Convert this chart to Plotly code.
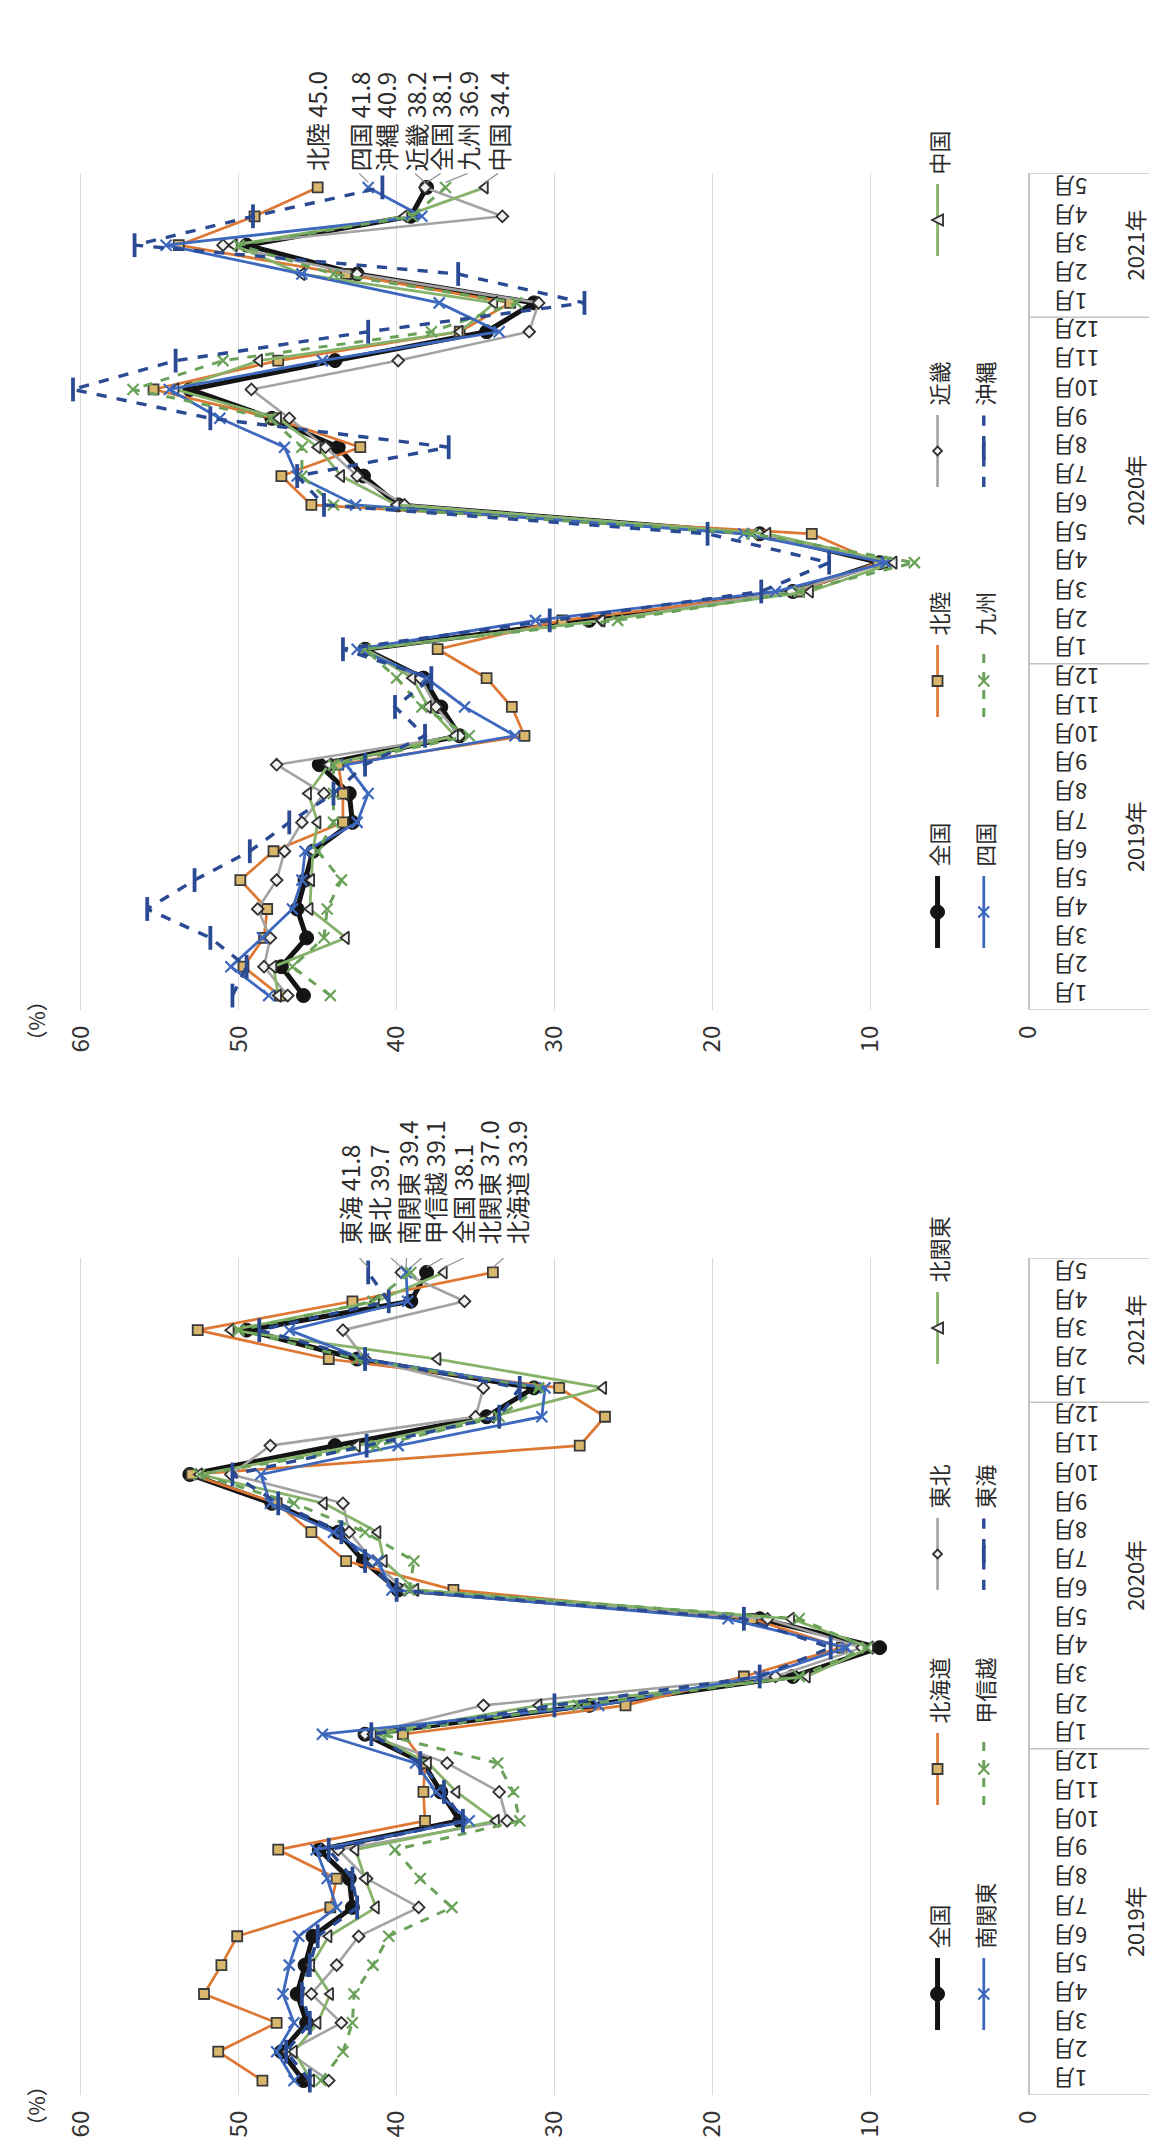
import plotly.graph_objects as go

W, H = 1157, 2147

# ---------------- data ----------------
years = ["2019年", "2020年", "2021年"]
months_in_year = [12, 12, 5]
month_labels = [f"{m}月" for n in months_in_year for m in range(1, n + 1)]
categories = [f"{y}{m}月" for y, n in zip(years, months_in_year) for m in range(1, n + 1)]
value_ticks = [0, 10, 20, 30, 40, 50, 60]

# 全国 (shared by both panels)
zenkoku = [45.9, 47.3, 45.7, 46.3, 45.8, 45.3, 42.8, 43.0, 44.9, 36.0, 37.2, 38.3,
           42.0, 27.8, 14.9, 9.4, 17.0, 39.9, 42.1, 43.7, 47.9, 53.1, 43.9, 34.3,
           31.3, 42.5, 49.5, 39.1, 38.1]
# upper panel
hokuriku = [47.4, 49.7, 48.4, 48.2, 49.9, 47.8, 43.4, 43.4, 43.7, 31.9, 32.7, 34.3,
            37.4, 29.5, 14.5, 9.5, 13.7, 45.4, 47.3, 42.3, 47.8, 55.4, 47.5, 36.0,
            32.8, 43.2, 53.8, 49.0, 45.0]
kinki = [46.9, 48.4, 48.0, 48.8, 47.6, 47.1, 46.0, 44.6, 47.6, 36.0, 37.5, 38.5,
         42.0, 27.0, 15.0, 9.0, 17.0, 39.5, 42.5, 44.5, 46.8, 49.2, 39.9, 31.6,
         31.0, 42.5, 51.0, 33.3, 38.2]
chugoku = [47.5, 47.8, 43.2, 45.5, 45.4, 45.3, 45.0, 45.6, 44.3, 36.3, 38.0, 39.0,
           42.0, 27.0, 13.8, 8.5, 16.5, 40.0, 43.5, 45.0, 47.5, 54.0, 48.7, 36.0,
           33.8, 46.0, 50.3, 39.5, 34.4]
shikoku = [48.1, 50.5, 48.5, 46.6, 46.0, 45.8, 42.5, 41.8, 43.2, 32.5, 35.7, 38.1,
           42.5, 31.2, 16.0, 9.0, 18.0, 42.6, 46.3, 47.1, 51.2, 54.4, 44.7, 33.5,
           37.3, 46.0, 54.6, 38.4, 41.8]
kyushu = [44.2, 46.6, 44.6, 44.4, 43.5, 45.0, 44.0, 44.0, 44.0, 35.4, 38.4, 40.0,
          42.0, 26.0, 14.5, 7.2, 17.5, 44.0, 46.0, 46.0, 48.0, 56.7, 51.0, 37.8,
          32.4, 44.0, 50.0, 39.0, 36.9]
okinawa = [50.4, 49.5, 51.8, 55.8, 52.8, 49.3, 46.8, 44.0, 42.0, 38.2, 40.1, 37.8,
           43.4, 30.3, 16.9, 12.6, 20.3, 44.6, 46.3, 36.7, 51.8, 60.5, 54.0, 41.8,
           28.1, 36.1, 56.6, 49.1, 40.9]
# lower panel
hokkaido = [48.5, 51.3, 47.6, 52.2, 51.1, 50.1, 44.2, 43.8, 47.5, 38.2, 38.3, 38.2,
            39.6, 25.5, 18.0, 11.8, 17.5, 36.4, 43.2, 45.4, 47.6, 53.0, 28.4, 26.8,
            29.7, 44.3, 52.6, 42.8, 33.9]
tohoku = [44.3, 46.9, 43.5, 45.4, 43.8, 42.4, 38.6, 41.9, 43.7, 33.0, 33.5, 36.8,
          42.0, 34.5, 16.0, 10.5, 16.5, 39.5, 41.5, 43.0, 43.4, 50.5, 48.0, 35.0,
          34.5, 42.0, 43.4, 35.7, 39.7]
kitakanto = [45.4, 46.5, 45.0, 44.2, 45.4, 44.3, 41.3, 42.0, 42.6, 33.7, 36.2, 38.0,
             41.5, 31.0, 14.0, 10.0, 15.0, 38.8, 40.8, 41.2, 44.6, 52.5, 42.5, 34.0,
             26.9, 37.4, 50.5, 41.3, 37.0]
minamikanto = [46.5, 47.6, 46.5, 47.2, 46.8, 46.2, 43.8, 44.4, 45.1, 35.4, 37.5, 38.8,
               44.7, 27.2, 17.0, 11.5, 19.0, 40.3, 41.2, 44.0, 48.0, 48.6, 39.9, 30.8,
               30.6, 42.1, 46.8, 39.3, 39.4]
koshinetsu = [44.8, 43.4, 42.8, 42.7, 41.5, 40.5, 36.5, 38.5, 40.1, 32.2, 32.6, 33.6,
              41.0, 28.5, 14.5, 10.2, 14.5, 39.2, 38.9, 42.0, 46.5, 52.5, 41.3, 33.5,
              31.0, 42.5, 50.0, 41.5, 39.1]
tokai = [45.5, 47.0, 45.5, 46.0, 45.5, 45.0, 42.5, 42.8, 44.3, 35.8, 37.0, 38.5,
         41.6, 30.0, 17.0, 12.5, 18.0, 40.0, 42.0, 43.5, 47.5, 50.4, 41.9, 33.5,
         32.2, 42.0, 48.7, 40.5, 41.8]

# ---------------- styles ----------------
FONT = "Noto Sans CJK JP"
TXT = "#2b2b2b"
STY = {
    "black":  dict(color="#141414", width=5, dash="solid", symbol="circle", size=14,
                   fill="#141414", mline="#141414", mlw=1),
    "orange": dict(color="#DD7733", width=2.7, dash="solid", symbol="square", size=10,
                   fill="#D8B66C", mline="#3a3a3a", mlw=1.8),
    "gray":   dict(color="#A3A3A3", width=2.6, dash="solid", symbol="diamond", size=9,
                   fill="#F2F2F2", mline="#303030", mlw=1.8),
    "lgreen": dict(color="#86B26A", width=2.8, dash="solid", symbol="triangle-left", size=11,
                   fill="#F0F0F0", mline="#303030", mlw=1.8),
    "blue":   dict(color="#3D68BD", width=2.8, dash="solid", symbol="x-thin", size=11,
                   fill="#3D68BD", mline="#3D68BD", mlw=2.2),
    "dgreen": dict(color="#6AA25A", width=3.0, dash="dash", symbol="x-thin", size=11,
                   fill="#6AA25A", mline="#6AA25A", mlw=2.2),
    "navy":   dict(color="#2A4B93", width=3.4, dash="dash", symbol="line-ns", size=17,
                   fill="#2A4B93", mline="#2A4B93", mlw=3.8),
}

X_LEFT, X_RIGHT, X_MAX = 54, 1033, 61   # plot area in px, value range

panels = [
    dict(xa="x", ya="y", top=165, bottom=1002, label_gap=14,
         series=[("全国", zenkoku, "black"), ("北陸", hokuriku, "orange"),
                 ("近畿", kinki, "gray"), ("中国", chugoku, "lgreen"),
                 ("四国", shikoku, "blue"), ("九州", kyushu, "dgreen"),
                 ("沖縄", okinawa, "navy")],
         label_dx={"北陸": -1, "四国": -9, "沖縄": 3, "近畿": -10, "全国": 14,
                   "九州": 22, "中国": 13},
         legend=[(941, [940, 709, 479, 248]), (988, [940, 709, 479])]),
    dict(xa="x2", ya="y2", top=1250, bottom=2087, label_gap=26,
         series=[("全国", zenkoku, "black"), ("北海道", hokkaido, "orange"),
                 ("東北", tohoku, "gray"), ("北関東", kitakanto, "lgreen"),
                 ("南関東", minamikanto, "blue"), ("甲信越", koshinetsu, "dgreen"),
                 ("東海", tokai, "navy")],
         label_dx={"東海": -19, "東北": -23, "南関東": 1, "甲信越": 24, "全国": 36,
                   "北関東": 44, "北海道": 24},
         legend=[(941, [2022, 1797, 1582, 1356]), (988, [2022, 1797, 1582])]),
]

fig = go.Figure()
shapes, annos = [], []


def pyp(y):
    return 1 - y / H


def legend_marker(st, cx, cy):
    s = st["size"] / 2
    common = dict(xref="paper", yref="paper", xsizemode="pixel", ysizemode="pixel",
                  xanchor=cx / W, yanchor=pyp(cy),
                  line=dict(color=st["mline"], width=st["mlw"]), layer="above")
    sym = st["symbol"]
    if sym == "circle":
        shapes.append(dict(type="circle", x0=-s, x1=s, y0=-s, y1=s, fillcolor=st["fill"], **common))
    elif sym == "square":
        shapes.append(dict(type="rect", x0=-s, x1=s, y0=-s, y1=s, fillcolor=st["fill"], **common))
    elif sym == "diamond":
        shapes.append(dict(type="path", path=f"M0,{s} L{s},0 L0,{-s} L{-s},0 Z",
                           fillcolor=st["fill"], **common))
    elif sym == "triangle-left":
        shapes.append(dict(type="path", path=f"M{-s},0 L{s},{s} L{s},{-s} Z",
                           fillcolor=st["fill"], **common))
    elif sym == "x-thin":
        shapes.append(dict(type="path", path=f"M{-s},{-s} L{s},{s} M{-s},{s} L{s},{-s}", **common))
    else:
        shapes.append(dict(type="path", path=f"M0,{-s} L0,{s}", **common))


last = len(categories) - 1
for p in panels:
    xa, ya = p["xa"], p["ya"]
    for name, vals, key in p["series"]:
        st = STY[key]
        fig.add_trace(go.Scatter(
            x=vals, y=categories, xaxis=xa, yaxis=ya, mode="lines+markers", name=name,
            showlegend=False,
            line=dict(color=st["color"], width=st["width"], dash=st["dash"]),
            marker=dict(symbol=st["symbol"], size=st["size"], color=st["fill"],
                        line=dict(color=st["mline"], width=st["mlw"]))))
        # end-of-series label + leader line
        dx, gap = p["label_dx"][name], p["label_gap"]
        annos.append(dict(x=vals[-1], y=categories[-1], xref=xa, yref=ya,
                          xshift=dx, yshift=gap, xanchor="center", yanchor="bottom",
                          text=f"{name} {vals[-1]:.1f}", textangle=-90, showarrow=False,
                          font=dict(family=FONT, size=24, color=TXT)))
        if abs(dx) >= 4 or gap > 16:
            shapes.append(dict(type="line", xref=xa, yref=ya, xsizemode="pixel",
                               ysizemode="pixel", xanchor=vals[-1], yanchor=last,
                               x0=0, y0=5, x1=dx, y1=gap,
                               line=dict(color="#8f8f8f", width=1.2)))

    # month labels (upside down, as in the reference)
    for cat, lab in zip(categories, month_labels):
        annos.append(dict(x=1057 / W, xref="paper", xanchor="left", y=cat, yref=ya,
                          yanchor="middle", text=lab, textangle=180, showarrow=False,
                          font=dict(family=FONT, size=22, color=TXT)))
    # year labels and separators of the category box
    start = 0
    bounds = [-0.5]
    for yl, n in zip(years, months_in_year):
        annos.append(dict(x=1141 / W, xref="paper", xanchor="center",
                          y=start + (n - 1) / 2, yref=ya, yanchor="middle",
                          text=yl, textangle=-90, showarrow=False,
                          font=dict(family=FONT, size=22, color=TXT)))
        start += n
        bounds.append(start - 0.5)
    for b in bounds:
        shapes.append(dict(type="line", xref="paper", yref=ya, x0=X_RIGHT / W, x1=1,
                           y0=b, y1=b, line=dict(color="#C4C4C4", width=1.5)))

    # (%) unit label
    annos.append(dict(x=24 / W, y=pyp(p["bottom"] + 11), xref="paper", yref="paper",
                      xanchor="center", yanchor="middle", text="（%）", textangle=-90,
                      showarrow=False, font=dict(family=FONT, size=21, color=TXT)))

    # legend (rotated, drawn manually)
    order = p["series"]
    k = 0
    for cx, slots in p["legend"]:
        for yb in slots:
            name, _, key = order[k]
            st = STY[key]
            k += 1
            shapes.append(dict(type="line", xref="paper", yref="paper",
                               x0=cx / W, x1=cx / W, y0=pyp(yb), y1=pyp(yb - 72),
                               line=dict(color=st["color"], width=st["width"], dash=st["dash"])))
            legend_marker(st, cx, yb - 36)
            annos.append(dict(x=cx / W, y=pyp(yb - 79), xref="paper", yref="paper",
                              xanchor="center", yanchor="bottom", text=name, textangle=-90,
                              showarrow=False, font=dict(family=FONT, size=22, color=TXT)))

axis_x = dict(range=[X_MAX, 0], domain=[X_LEFT / W, X_RIGHT / W], tickvals=value_ticks,
              tickangle=-90, ticks="", ticklabelstandoff=10, showgrid=True,
              gridcolor="#D9D9D9", gridwidth=1.2, zeroline=False, showline=False,
              tickfont=dict(family=FONT, size=24, color="#333333"))
axis_y = dict(type="category", categoryorder="array", categoryarray=categories,
              range=[-0.5, len(categories) - 0.5], side="right", showline=True,
              linecolor="#C4C4C4", linewidth=1.5, showticklabels=False, ticks="",
              showgrid=False, zeroline=False)

fig.update_layout(
    width=W, height=H, margin=dict(l=0, r=0, t=0, b=0),
    paper_bgcolor="white", plot_bgcolor="white", showlegend=False,
    font=dict(family=FONT, color=TXT),
    xaxis=dict(axis_x, anchor="y"),
    yaxis=dict(axis_y, anchor="x", domain=[pyp(panels[0]["bottom"]), pyp(panels[0]["top"])]),
    xaxis2=dict(axis_x, anchor="y2"),
    yaxis2=dict(axis_y, anchor="x2", domain=[pyp(panels[1]["bottom"]), pyp(panels[1]["top"])]),
    shapes=shapes, annotations=annos,
)

fig.write_html("out.html")
